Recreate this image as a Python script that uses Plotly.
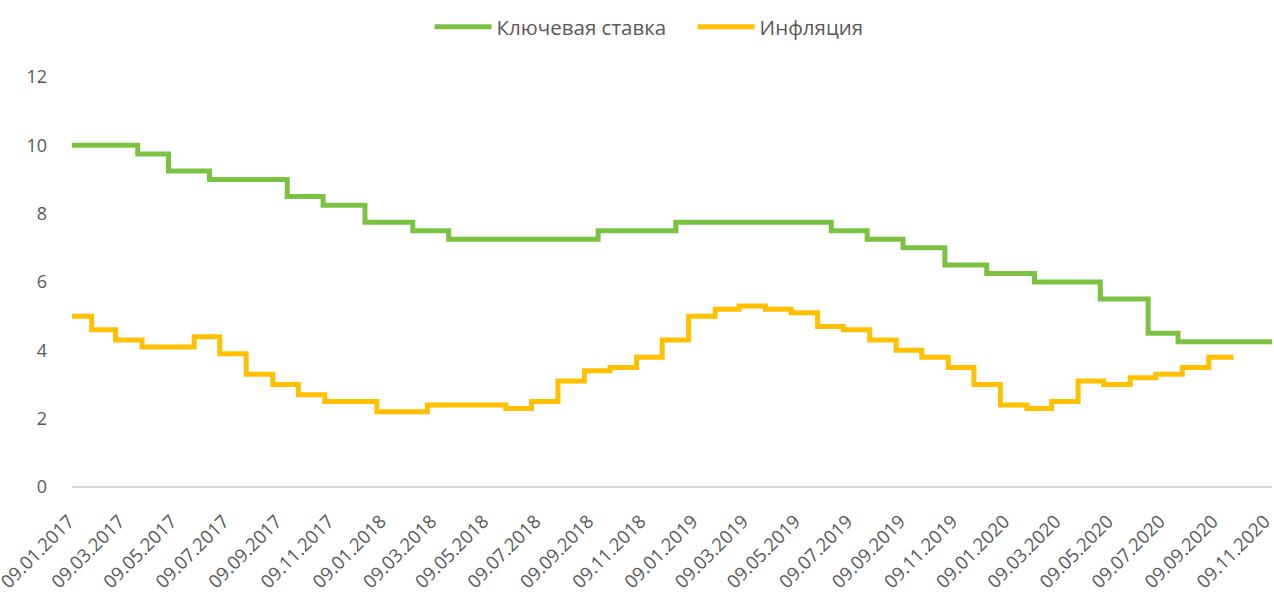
import pandas as pd
import plotly.graph_objects as go

# Key rate of the Bank of Russia: dates of change and new level, %
rate_dates = ["2017-01-09", "2017-03-27", "2017-05-02", "2017-06-19", "2017-09-18",
              "2017-10-30", "2017-12-18", "2018-02-12", "2018-03-26", "2018-09-17",
              "2018-12-17", "2019-06-17", "2019-07-29", "2019-09-09", "2019-10-28",
              "2019-12-16", "2020-02-10", "2020-04-27", "2020-06-22", "2020-07-27",
              "2020-11-14"]
rate_values = [10.0, 9.75, 9.25, 9.0, 8.5,
               8.25, 7.75, 7.5, 7.25, 7.5,
               7.75, 7.5, 7.25, 7.0, 6.5,
               6.25, 6.0, 5.5, 4.5, 4.25,
               4.25]

# Inflation, % y/y, by month (Jan 2017 .. Sep 2020)
infl_months = pd.date_range("2017-01-01", "2020-09-01", freq="MS")
infl_values = [5.0, 4.6, 4.3, 4.1, 4.1, 4.4, 3.9, 3.3, 3.0, 2.7, 2.5, 2.5,
               2.2, 2.2, 2.4, 2.4, 2.4, 2.3, 2.5, 3.1, 3.4, 3.5, 3.8, 4.3,
               5.0, 5.2, 5.3, 5.2, 5.1, 4.7, 4.6, 4.3, 4.0, 3.8, 3.5, 3.0,
               2.4, 2.3, 2.5, 3.1, 3.0, 3.2, 3.3, 3.5, 3.8]
infl_start = "2017-01-09"
infl_end = "2020-09-30"

x_start = "2017-01-09"
x_end = "2020-11-14"

# tick every two months on the 9th
tick_dates = pd.date_range("2017-01-01", "2020-11-01", freq="2MS") + pd.Timedelta(days=8)
tick_labels = [d.strftime("%d.%m.%Y") for d in tick_dates]

infl_x = [pd.Timestamp(infl_start)] + list(infl_months[1:]) + [pd.Timestamp(infl_end)]
infl_y = infl_values + [infl_values[-1]]

fig = go.Figure()
fig.add_trace(go.Scatter(x=pd.to_datetime(rate_dates), y=rate_values, name="Ключевая ставка",
                         mode="lines", line=dict(color="#7cc242", width=5, shape="hv")))
fig.add_trace(go.Scatter(x=infl_x, y=infl_y, name="Инфляция",
                         mode="lines", line=dict(color="#ffc000", width=5, shape="hv")))

fig.update_layout(
    width=1274, height=597,
    margin=dict(l=72, r=2, t=77, b=110),
    paper_bgcolor="white", plot_bgcolor="white",
    font=dict(family="Open Sans, sans-serif", color="#595959"),
    legend=dict(orientation="h", x=0.298, xanchor="left", yref="container",
                y=0.955, yanchor="middle", itemwidth=57, entrywidth=191,
                font=dict(size=20.5, color="#595959")),
    xaxis=dict(type="date", range=[x_start, x_end], tickvals=tick_dates, ticktext=tick_labels,
               tickangle=-45, tickfont=dict(size=18.5), ticklabeloverflow="allow",
               ticklabelshift=-3, showgrid=False, zeroline=False, showline=False, ticks="",
               ticklabelstandoff=19, automargin=False),
    yaxis=dict(range=[0, 12], dtick=2, tickfont=dict(size=18), showgrid=False,
               zeroline=True, zerolinecolor="#d9d9d9", zerolinewidth=2,
               ticks="", ticklabelstandoff=24, automargin=False),
)

fig.write_html("out.html", config={"displayModeBar": False},
               post_script="document.body.style.margin='0';")
